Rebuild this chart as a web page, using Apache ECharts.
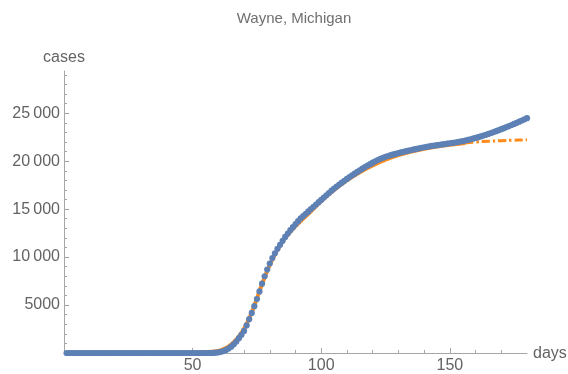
<!DOCTYPE html>
<html>
<head>
<meta charset="utf-8">
<script src="https://cdn.jsdelivr.net/npm/echarts@6/dist/echarts.min.js"></script>
<style>
html,body{margin:0;padding:0;background:#fff;}
#c{width:568px;height:374px;}
</style>
</head>
<body>
<div id="c"></div>
<script>
// ---- data ----
var titleText = 'Wayne, Michigan';
var xName = 'days';
var yName = 'cases';
var firstDay = 1;
// cumulative cases, one value per day, day 1 .. 180
var cases = [
  0,0,0,0,0,0,0,0,0,0,
  0,0,0,0,0,0,0,0,0,0,
  0,0,0,0,0,0,0,0,0,0,
  0,0,0,0,0,0,0,0,0,0,
  0,0,0,0,0,0,0,0,0,0,
  0,0,0,0,0,0,0,10,30,70,
  120,200,320,470,660,900,1200,1550,1900,2300,
  2880,3530,4180,4880,5620,6420,7230,8000,8700,9330,
  9900,10400,10860,11280,11700,12100,12460,12800,13120,13430,
  13740,14040,14280,14520,14760,15000,15240,15480,15720,15960,
  16200,16440,16680,16920,17140,17350,17560,17760,17960,18150,
  18340,18520,18700,18880,19050,19220,19380,19540,19690,19840,
  19980,20120,20240,20350,20450,20540,20620,20700,20770,20840,
  20910,20980,21040,21100,21160,21220,21280,21340,21400,21450,
  21495,21540,21585,21625,21665,21705,21745,21785,21825,21865,
  21905,21945,21990,22040,22095,22150,22210,22275,22345,22420,
  22500,22580,22665,22750,22840,22935,23030,23130,23230,23335,
  23440,23550,23660,23770,23885,24000,24120,24240,24360,24480
];
// fitted curve (solid part)
var fitDays   = [0, 40, 50, 55, 58, 60, 62, 64, 66, 68, 70, 72, 74, 76, 78, 80, 82, 84, 86, 88, 90, 92, 95, 100, 105, 110, 115, 120, 125, 130, 135, 140, 145, 150, 156];
var fitValues = [0, 5, 30, 80, 150, 220, 400, 700, 1120, 1720, 2520, 3600, 4950, 6450, 7900, 9200, 10300, 11220, 12000, 12650, 13230, 13760, 14500, 15850, 17000, 18000, 18850, 19550, 20150, 20620, 21000, 21300, 21530, 21720, 21900];
// fitted curve (projection, dash-dot)
var projDays   = [156, 160, 165, 170, 175, 180];
var projValues = [21900, 22000, 22080, 22140, 22190, 22230];
// axis ticks
var xMajorTicks = [50, 100, 150];
var xMinorTicks = [10, 20, 30, 40, 60, 70, 80, 90, 110, 120, 130, 140, 160, 170];
var yMajorTicks = [5000, 10000, 15000, 20000, 25000];
var yMinorTicks = [1000, 2000, 3000, 4000, 6000, 7000, 8000, 9000, 11000, 12000, 13000, 14000, 16000, 17000, 18000, 19000, 21000, 22000, 23000, 24000, 26000, 27000, 28000, 29000];

// ---- chart ----
var FONT = '"Liberation Sans", Arial, sans-serif';
var TXT = '#636363';
var AX = '#a6a6a6';
var BLUE = '#5E81B5';
var ORANGE = '#FF8C1A';

function fmt(v) {
  if (v >= 10000) {
    var s = String(v);
    return s.slice(0, s.length - 3) + '\u2009' + s.slice(s.length - 3);
  }
  return String(v);
}

var blueData = cases.map(function (v, i) { return [firstDay + i, v]; });
var fitData = fitDays.map(function (d, i) { return [d, fitValues[i]]; });
var projData = projDays.map(function (d, i) { return [d, projValues[i]]; });

var chart = echarts.init(document.getElementById('c'), null, {renderer: 'canvas'});
var grid = {left: 64, right: 41, top: 71, bottom: 20, containLabel: false};
var X_MIN = 0, X_MAX = 180, Y_MIN = 0, Y_MAX = 29400;

chart.setOption({
  animation: false,
  backgroundColor: '#ffffff',
  grid: grid,
  graphic: [
    {type: 'text', x: 294, y: 19, style: {text: titleText, font: '15px ' + FONT, fill: '#707070', textAlign: 'center', textVerticalAlign: 'middle'}},
    {type: 'text', x: 64, y: 58, style: {text: yName, font: '16px ' + FONT, fill: TXT, textAlign: 'center', textVerticalAlign: 'middle'}},
    {type: 'text', x: 533, y: 354, style: {text: xName, font: '16px ' + FONT, fill: TXT, textAlign: 'left', textVerticalAlign: 'middle'}}
  ],
  xAxis: [
    {
      type: 'value', min: X_MIN, max: X_MAX, position: 'bottom',
      axisLine: {show: true, onZero: false, lineStyle: {color: AX, width: 1}},
      axisTick: {show: true, inside: true, length: 5, customValues: xMajorTicks, lineStyle: {color: AX}},
      axisLabel: {show: true, customValues: xMajorTicks, formatter: fmt, margin: 5, color: TXT, fontSize: 16, fontFamily: FONT},
      splitLine: {show: false}
    },
    {
      type: 'value', min: X_MIN, max: X_MAX, position: 'bottom',
      axisLine: {show: false},
      axisTick: {show: true, inside: true, length: 3, customValues: xMinorTicks, lineStyle: {color: AX}},
      axisLabel: {show: false},
      splitLine: {show: false}
    }
  ],
  yAxis: [
    {
      type: 'value', min: Y_MIN, max: Y_MAX, position: 'left',
      axisLine: {show: true, onZero: false, lineStyle: {color: AX, width: 1}},
      axisTick: {show: true, inside: true, length: 5, customValues: yMajorTicks, lineStyle: {color: AX}},
      axisLabel: {show: true, customValues: yMajorTicks, formatter: fmt, margin: 4, color: TXT, fontSize: 16, fontFamily: FONT},
      splitLine: {show: false}
    },
    {
      type: 'value', min: Y_MIN, max: Y_MAX, position: 'left',
      axisLine: {show: false},
      axisTick: {show: true, inside: true, length: 3, customValues: yMinorTicks, lineStyle: {color: AX}},
      axisLabel: {show: false},
      splitLine: {show: false}
    }
  ],
  series: [
    {
      type: 'line', data: fitData, xAxisIndex: 0, yAxisIndex: 0, smooth: 0.4,
      showSymbol: false, z: 2, silent: true,
      lineStyle: {color: ORANGE, width: 4}
    },
    {
      type: 'line', data: projData, xAxisIndex: 0, yAxisIndex: 0, smooth: 0.4,
      showSymbol: false, z: 2, silent: true,
      lineStyle: {color: ORANGE, width: 3, type: [8, 3, 2.5, 3], cap: 'butt'}
    },
    {
      type: 'scatter', data: blueData, xAxisIndex: 0, yAxisIndex: 0,
      symbol: 'circle', symbolSize: 6.2, z: 3, silent: true,
      itemStyle: {color: BLUE, opacity: 1}
    }
  ]
});
</script>
</body>
</html>
